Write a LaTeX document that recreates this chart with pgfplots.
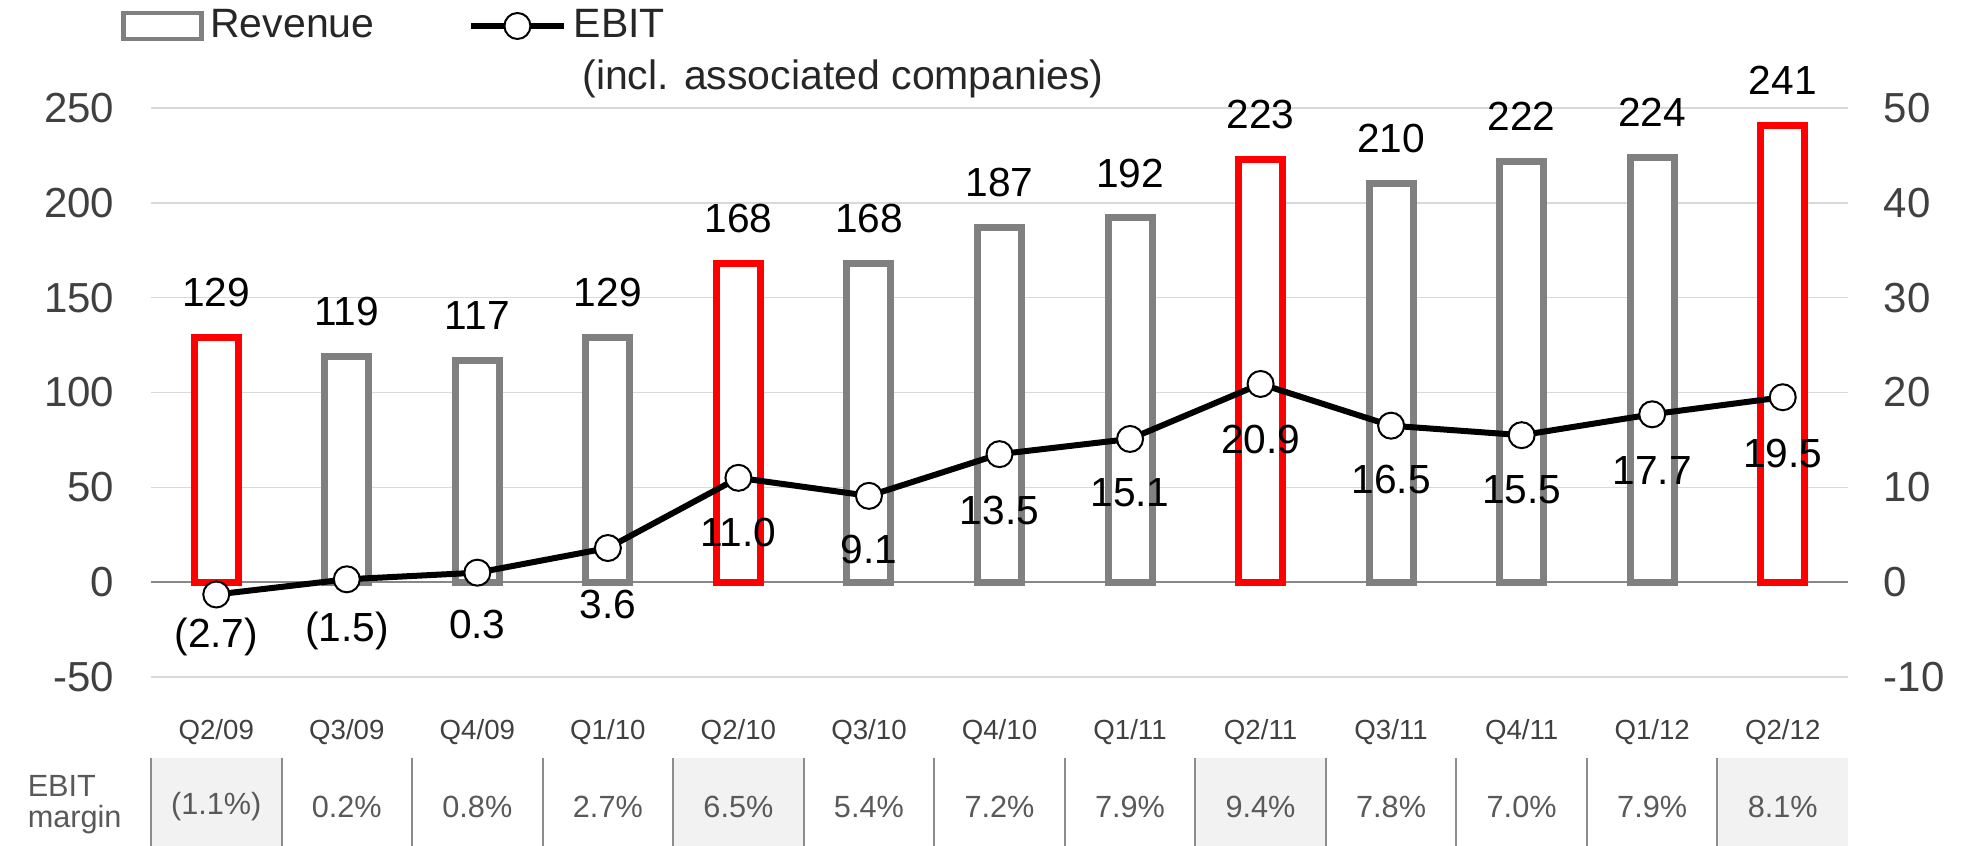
\documentclass[border=0pt]{standalone}
\usepackage{fontspec}
\setmainfont{Liberation Sans}
\usepackage{pgfplots}
\pgfplotsset{compat=1.18}
\usetikzlibrary{calc}

\definecolor{barGray}{HTML}{808080}
\definecolor{barRed}{HTML}{FF0000}
\definecolor{tickText}{HTML}{404040}
\definecolor{gridGray}{HTML}{D9D9D9}
\definecolor{zeroGray}{HTML}{888888}
\definecolor{cellGray}{HTML}{F2F2F2}
\definecolor{sepGray}{HTML}{8C8C8C}
\definecolor{marginText}{HTML}{595959}

\pgfplotsset{
  chartbase/.style={
    scale only axis, width=509.1pt, height=170.7pt,
    xmin=-0.5, xmax=12.5,
    axis line style={draw=none},
    tick style={draw=none},
    /pgf/number format/assume math mode=true,
    tick label style={font=\fontsize{12.6}{14}\selectfont, text=tickText},
    clip=false,
  },
  revlegend/.style={legend image code/.code={\draw[##1] (0pt,-3.9pt) rectangle (23.4pt,3.9pt);}},
  ebitlegend/.style={legend image code/.code={\draw[##1, mark repeat=2, mark phase=2] plot coordinates {(0pt,0pt)(14pt,0pt)(28pt,0pt)};}},
}

\begin{document}
\begin{tikzpicture}
% revenue bars, left axis
\begin{axis}[chartbase, name=main,
  ymin=-50, ymax=250, ytick={-50,0,...,250},
  ymajorgrids, grid style={gridGray, line width=0.45pt},
  extra y ticks={0}, extra y tick labels={},
  extra y tick style={grid style={zeroGray, line width=0.6pt}},
  yticklabel style={anchor=east, inner sep=0pt, xshift=-10.8pt},
  xtick={0,...,12},
  xticklabels={Q2/09,Q3/09,Q4/09,Q1/10,Q2/10,Q3/10,Q4/10,Q1/11,Q2/11,Q3/11,Q4/11,Q1/12,Q2/12},
  xticklabel style={font=\fontsize{8.3}{10}\selectfont, anchor=center, inner sep=0pt, yshift=-12.3pt},
  ybar, bar width=13.2pt, bar shift=0pt,
  nodes near coords,
  nodes near coords style={font=\fontsize{12.2}{14}\selectfont, text=black, anchor=south, inner sep=0pt, yshift=8.1pt},
]
\addplot[draw=barGray, fill=white, line width=2.1pt] coordinates {(1,119)(2,117)(3,129)(5,168)(6,187)(7,192)(9,210)(10,222)(11,224)};
\addplot[draw=barRed, fill=white, line width=2.1pt] coordinates {(0,129)(4,168)(8,223)(12,241)};
\end{axis}

% EBIT line, right axis
\begin{axis}[chartbase,
  ymin=-10, ymax=50, ytick={-10,0,...,50},
  xtick=\empty,
  ytick pos=right, yticklabel pos=right,
  yticklabel style={anchor=west, inner sep=0pt, xshift=10.5pt},
  legend columns=2,
  legend cell align=left,
  legend style={draw=none, fill=none, at={(0,1)}, anchor=west, xshift=-12.2pt, yshift=24.6pt,
    font=\fontsize{12.3}{14}\selectfont, text=black!85,
    /tikz/every even column/.append style={column sep=26pt}},
]
\addlegendimage{draw=barGray, fill=white, line width=1.4pt, revlegend}
\addlegendentry{Revenue}
\addplot[black, line width=1.8pt, mark=*, mark size=3.9pt,
  mark options={fill=white, draw=black, line width=0.6pt}, ebitlegend]
  coordinates {(0,-1.3)(1,0.3)(2,1.0)(3,3.6)(4,11.0)(5,9.1)(6,13.5)(7,15.1)(8,20.9)(9,16.5)(10,15.5)(11,17.7)(12,19.5)};
\addlegendentry{EBIT}
\addplot[forget plot, draw=none, mark=none, nodes near coords, point meta=explicit symbolic,
  nodes near coords style={font=\fontsize{12.2}{14}\selectfont, text=black, anchor=center, inner sep=0pt}]
  coordinates {(0,-5.8) [(2.7)] (1,-5.1) [(1.5)] (2,-4.5) [0.3] (3,-2.4) [3.6] (4,5.2) [11.0] (5,3.4) [9.1]
    (6,7.6) [13.5] (7,9.4) [15.1] (8,15.0) [20.9] (9,10.8) [16.5] (10,9.7) [15.5] (11,11.8) [17.7] (12,13.6) [19.5]};
\end{axis}

\node[anchor=west, font=\fontsize{12.3}{14}\selectfont, text=black!85] at ($(main.north west)+(125.9pt,8.8pt)$) {(incl. associated companies)};

% EBIT margin row
\foreach \i in {0,4,8,12} {
  \fill[cellGray] ($(main.south west)!{\i/13}!(main.south east)+(0,-24.3pt)$) rectangle ($(main.south west)!{(\i+1)/13}!(main.south east)+(0,-50.7pt)$);
}
\foreach \i in {0,...,12} {
  \draw[sepGray, line width=0.6pt] ($(main.south west)!{\i/13}!(main.south east)+(0,-24.3pt)$) -- ++(0,-26.4pt);
}
\foreach \t [count=\i from 0] in {{(1.1\%)},{0.2\%},{0.8\%},{2.7\%},{6.5\%},{5.4\%},{7.2\%},{7.9\%},{9.4\%},{7.8\%},{7.0\%},{7.9\%},{8.1\%}} {
  \node[font=\fontsize{9.2}{10}\selectfont, text=marginText] at ($(main.south west)!{(\i+0.5)/13}!(main.south east)+(0,-39pt)$) {\t};
}
\node[anchor=west, align=left, font=\fontsize{9.2}{9.2}\selectfont, text=marginText] at ($(main.south west)+(-40.5pt,-38.2pt)$) {EBIT\\margin};

\pgfresetboundingbox
\useasboundingbox ($(main.south west)+(-45.3pt,-50.7pt)$) rectangle ($(main.north east)+(35.4pt,32.4pt)$);
\end{tikzpicture}
\end{document}
